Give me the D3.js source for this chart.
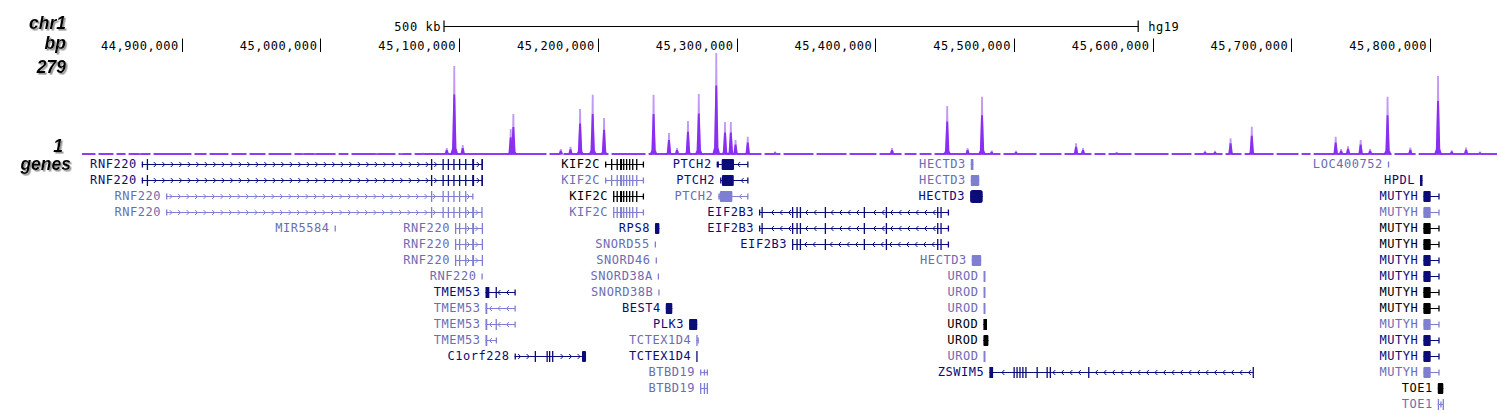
<!DOCTYPE html>
<html><head><meta charset="utf-8">
<script src="https://cdn.jsdelivr.net/npm/d3@7"></script>
<style>body{margin:0;background:#fff}svg{display:block}</style>
</head><body><svg id="c" width="1499" height="413"></svg>
<script>
// ---------- data (genomic positions in kb, chr1 hg19) ----------
const viewKb = [44828.1, 45848.3];
const tickKb = [44900, 45000, 45100, 45200, 45300, 45400, 45500, 45600, 45700, 45800];
const scaleBarKb = [45089.1, 45589.6];
const trackMax = 279, trackMin = 1;

const peakKb = [44869.9,44987.5,44996.1,45040.6,45058.6,45074.0,45091.1,45096.5,45102.6,45137.2,45139.1,45173.3,45180.3,45187.2,45196.3,45204.5,45240.2,45251.3,45257.1,45265.0,45272.8,45285.4,45291.7,45295.9,45299.3,45308.1,45327.8,45412.1,45451.9,45466.6,45477.0,45484.0,45501.5,45544.8,45549.8,45574.1,45637.8,45645.0,45656.2,45671.5,45732.0,45735.9,45740.9,45750.0,45756.8,45769.4,45785.8,45805.8,45815.7,45826.0,45836.0];
const peakVal = [4,4,4,4,4,5,18,243,26,70,111,15,21,125,164,100,164,59,18,92,166,279,89,89,40,49,8,18,133,18,159,11,10,31,18,7,10,10,45,76,49,15,23,40,15,159,19,216,12,19,8];
const gapKb = [44838.9,44851.9,44860.6,44878.6,44908.1,44919.0,44934.8,44947.8,44961.5,44980.2,45012.0,45021.3,45055.2,45066.8,45164.1,45174.2,45208.8,45235.5,45319.1,45332.8,45356.6,45380.4,45402.0,45420.1,45430.9,45441.7,45491.4,45517.4,45535.4,45557.0,45567.1,45585.9,45612.6,45629.1,45651.5,45665.2,45688.3,45706.3,45715.0,45773.3,45790.7];

// exon structures [startKb, endKb, kind] kind 0=UTR,1=CDS,2=dense block
const rnfFullEx = [[44871.2,44871.6,0],[44874.8,44875.3,1],[45079.7,45080.2,1],[45088.0,45088.4,1],[45091.8,45092.2,1],[45095.8,45096.2,1],[45099.9,45100.3,1],[45104.3,45104.7,1],[45109.4,45110.8,1],[45116.0,45117.2,1]];
const rnfLightAEx = [[44888.7,44889.1,0],[45079.7,45080.2,1],[45088.0,45088.4,1],[45091.8,45092.2,1],[45095.8,45096.2,1],[45099.9,45100.3,1],[45104.3,45104.7,1],[45109.4,45109.8,0]];
const rnfLightBEx = [[44888.7,44889.1,0],[45079.7,45080.2,1],[45088.0,45088.4,1],[45091.8,45092.2,1],[45095.8,45096.2,1],[45099.9,45100.3,1],[45104.3,45104.7,1],[45109.4,45110.8,1],[45116.0,45116.7,1]];
const rnfShortEx = [[45097.0,45097.4,1],[45099.9,45100.3,1],[45104.3,45104.7,1],[45109.4,45110.8,1],[45116.3,45117.2,1]];
const kifEx = [[45205.2,45205.6,0],[45209.5,45210.0,1],[45213.5,45214.0,1],[45216.0,45217.5,1],[45218.2,45219.0,1],[45220.3,45221.0,1],[45222.5,45223.0,1],[45224.7,45225.2,1],[45227.6,45228.0,1],[45232.4,45232.8,0]];
const kifShortEx = [[45211.0,45211.5,1],[45213.5,45214.0,1],[45216.0,45217.5,1],[45218.2,45219.0,1],[45220.3,45221.0,1],[45222.5,45223.0,1],[45224.7,45225.2,1],[45227.6,45228.0,1],[45232.4,45232.8,0]];
const eifLongEx = [[45316.2,45316.7,0],[45318.0,45318.4,1],[45340.0,45340.5,1],[45343.2,45343.6,1],[45345.6,45346.1,1],[45363.6,45364.1,1],[45391.7,45392.2,1],[45407.6,45408.1,1],[45444.6,45445.1,1],[45447.0,45447.5,1],[45452.3,45452.7,0]];
const eifShortEx = [[45340.0,45340.5,1],[45343.2,45343.6,1],[45345.6,45346.1,1],[45363.6,45364.1,1],[45391.7,45392.2,1],[45407.6,45408.1,1],[45444.6,45445.1,1],[45447.0,45447.5,1],[45452.3,45452.7,0]];
const mutyhEx = [[45795.2,45800.5,1],[45806.0,45806.5,0]];
const mutyhColors = ["n","l","k","k","n","n","k","k","l","n","n","l"]; // rows 2..13

const genes = [
  {name:"RNF220",row:0,col:"n",str:"+",a:44871.2,b:45117.2,ex:rnfFullEx},
  {name:"KIF2C",row:0,col:"k",str:"+",a:45205.2,b:45232.8,ex:kifEx},
  {name:"PTCH2",row:0,col:"n",str:"-",a:45285.7,b:45308.1,ex:[[45285.7,45287.3,0],[45289.3,45298.2,1],[45307.7,45308.1,0]]},
  {name:"HECTD3",row:0,col:"l",str:"-",a:45468.9,b:45470.8,ex:[[45468.9,45470.8,1]]},
  {name:"LOC400752",row:0,col:"l",str:"+",a:45769.6,b:45770.6,ex:[[45769.6,45770.6,0]]},

  {name:"RNF220",row:1,col:"n",str:"+",a:44871.2,b:45117.2,ex:rnfFullEx},
  {name:"KIF2C",row:1,col:"l",str:"+",a:45205.2,b:45232.8,ex:kifEx},
  {name:"PTCH2",row:1,col:"n",str:"-",a:45288.2,b:45308.1,ex:[[45288.2,45289.0,0],[45289.5,45298.0,1],[45307.7,45308.1,0]]},
  {name:"HECTD3",row:1,col:"l",str:"-",a:45468.9,b:45475.0,ex:[[45468.9,45475.0,1]]},
  {name:"HPDL",row:1,col:"n",str:"+",a:45792.8,b:45794.6,ex:[[45792.8,45794.6,1]]},

  {name:"RNF220",row:2,col:"l",str:"+",a:44888.7,b:45109.8,ex:rnfLightAEx},
  {name:"KIF2C",row:2,col:"k",str:"+",a:45211.0,b:45232.8,ex:kifShortEx},
  {name:"PTCH2",row:2,col:"l",str:"-",a:45286.9,b:45308.1,ex:[[45286.9,45288.0,0],[45288.0,45297.0,1],[45307.7,45308.1,0]]},
  {name:"HECTD3",row:2,col:"n",str:"-",a:45468.4,b:45477.5,ex:[[45468.4,45477.5,2]]},

  {name:"RNF220",row:3,col:"l",str:"+",a:44888.7,b:45116.7,ex:rnfLightBEx},
  {name:"KIF2C",row:3,col:"l",str:"+",a:45211.0,b:45232.8,ex:kifShortEx},
  {name:"EIF2B3",row:3,col:"n",str:"-",a:45316.2,b:45452.7,ex:eifLongEx},

  {name:"MIR5584",row:4,col:"l",str:"+",a:45010.2,b:45010.8,ex:[[45010.2,45010.8,0]]},
  {name:"RNF220",row:4,col:"l",str:"+",a:45097.0,b:45117.2,ex:rnfShortEx},
  {name:"RPS8",row:4,col:"n",str:"+",a:45241.2,b:45244.4,ex:[[45241.2,45244.4,1]]},
  {name:"EIF2B3",row:4,col:"n",str:"-",a:45316.2,b:45452.7,ex:eifLongEx},

  {name:"RNF220",row:5,col:"l",str:"+",a:45097.0,b:45117.2,ex:rnfShortEx},
  {name:"SNORD55",row:5,col:"l",str:"+",a:45241.0,b:45241.6,ex:[[45241.0,45241.6,0]]},
  {name:"EIF2B3",row:5,col:"n",str:"-",a:45340.0,b:45452.7,ex:eifShortEx},

  {name:"RNF220",row:6,col:"l",str:"+",a:45097.0,b:45117.2,ex:rnfShortEx},
  {name:"SNORD46",row:6,col:"l",str:"+",a:45241.7,b:45242.3,ex:[[45241.7,45242.3,0]]},
  {name:"HECTD3",row:6,col:"l",str:"-",a:45469.6,b:45476.4,ex:[[45469.6,45476.4,1]]},

  {name:"RNF220",row:7,col:"l",str:"+",a:45116.1,b:45116.7,ex:[[45116.1,45116.7,0]]},
  {name:"SNORD38A",row:7,col:"l",str:"+",a:45243.2,b:45243.8,ex:[[45243.2,45243.8,0]]},
  {name:"UROD",row:7,col:"l",str:"-",a:45478.1,b:45479.5,ex:[[45478.1,45479.5,1]]},

  {name:"TMEM53",row:8,col:"n",str:"-",a:45119.0,b:45140.3,ex:[[45119.0,45121.8,1],[45126.3,45126.8,1],[45139.9,45140.3,0]]},
  {name:"SNORD38B",row:8,col:"l",str:"+",a:45243.6,b:45244.2,ex:[[45243.6,45244.2,0]]},
  {name:"UROD",row:8,col:"l",str:"-",a:45478.1,b:45479.5,ex:[[45478.1,45479.5,1]]},

  {name:"TMEM53",row:9,col:"l",str:"-",a:45119.0,b:45140.3,ex:[[45119.0,45120.3,1],[45139.9,45140.3,0]]},
  {name:"BEST4",row:9,col:"n",str:"-",a:45249.0,b:45253.7,ex:[[45249.0,45253.7,1]]},
  {name:"UROD",row:9,col:"l",str:"-",a:45478.1,b:45479.5,ex:[[45478.1,45479.5,1]]},

  {name:"TMEM53",row:10,col:"l",str:"-",a:45119.0,b:45140.3,ex:[[45119.0,45120.3,1],[45126.3,45126.8,1],[45139.9,45140.3,0]]},
  {name:"PLK3",row:10,col:"n",str:"+",a:45265.8,b:45271.7,ex:[[45265.8,45271.7,1]]},
  {name:"UROD",row:10,col:"k",str:"-",a:45478.0,b:45480.6,ex:[[45478.0,45480.6,1]]},

  {name:"TMEM53",row:11,col:"l",str:"-",a:45119.0,b:45126.8,ex:[[45119.0,45120.3,1],[45126.4,45126.8,0]]},
  {name:"TCTEX1D4",row:11,col:"l",str:"-",a:45271.0,b:45272.8,ex:[[45271.0,45271.8,1],[45271.8,45272.8,0]]},
  {name:"UROD",row:11,col:"k",str:"-",a:45478.0,b:45481.6,ex:[[45478.0,45481.6,1]]},

  {name:"C1orf228",row:12,col:"n",str:"+",a:45140.0,b:45191.5,ex:[[45140.0,45140.4,0],[45154.5,45155.0,1],[45163.0,45163.5,1],[45164.8,45165.3,1],[45167.0,45167.5,1],[45188.6,45191.5,1]]},
  {name:"TCTEX1D4",row:12,col:"n",str:"-",a:45271.0,b:45271.7,ex:[[45271.0,45271.7,1]]},
  {name:"UROD",row:12,col:"l",str:"-",a:45478.1,b:45479.5,ex:[[45478.1,45479.5,1]]},

  {name:"BTBD19",row:13,col:"l",str:"+",a:45273.7,b:45279.0,ex:[[45273.7,45274.2,0],[45276.4,45276.9,0],[45278.5,45279.0,0]]},
  {name:"ZSWIM5",row:13,col:"n",str:"-",a:45482.3,b:45672.6,ex:[[45482.3,45485.0,1],[45499.7,45500.2,1],[45501.8,45502.3,1],[45503.9,45504.4,1],[45506.0,45506.5,1],[45508.2,45508.7,1],[45516.3,45516.8,1],[45523.5,45524.0,1],[45525.8,45526.3,1],[45553.5,45554.0,1],[45672.1,45672.6,1]]},

  {name:"BTBD19",row:14,col:"l",str:"+",a:45273.7,b:45279.0,ex:[[45273.7,45274.2,1],[45276.4,45276.9,1],[45278.5,45279.0,1]]},
  {name:"TOE1",row:14,col:"k",str:"+",a:45805.6,b:45809.6,ex:[[45805.6,45809.6,1]]},

  {name:"TOE1",row:15,col:"l",str:"+",a:45805.6,b:45809.6,ex:[[45805.6,45806.1,1],[45807.4,45807.9,0],[45809.1,45809.6,1]]}
];
mutyhColors.forEach((c,i)=>genes.push({name:"MUTYH",row:i+2,col:c,str:"-",a:45795.2,b:45806.5,ex:mutyhEx}));

const leftLabels = [["chr1",66,29],["bp",66,49],["279",66,73],["1",63,152],["genes",71,170]];

// ---------- drawing ----------
const svg = d3.select("#c");
const W = 1499;
svg.append("rect").attr("width",W).attr("height",413).attr("fill","#fff");
const x = d3.scaleLinear().domain(viewKb).range([82,1497]);
const baseY = 154.5;
const y = d3.scaleLinear().domain([0,trackMax]).range([baseY,53]);
const mono = "'DejaVu Sans Mono', monospace";

const defs = svg.append("defs");
const f = defs.append("filter").attr("id","sh").attr("x","-20%").attr("y","-20%").attr("width","150%").attr("height","150%");
f.append("feDropShadow").attr("dx",1.6).attr("dy",1.6).attr("stdDeviation",0.7).attr("flood-color","#8a8a8a").attr("flood-opacity",0.9);

// left labels
svg.append("g").selectAll("text").data(leftLabels).join("text")
  .attr("x",d=>d[1]).attr("y",d=>d[2]).attr("text-anchor","end")
  .attr("font-family","'Liberation Sans', Arial, sans-serif").attr("font-weight","bold").attr("font-style","italic")
  .attr("font-size",17.5).attr("fill","#000").attr("filter","url(#sh)").text(d=>d[0]);

// scale bar
const sb = svg.append("g");
const sbY = 26.5;
sb.append("line").attr("x1",x(scaleBarKb[0])).attr("x2",x(scaleBarKb[1])).attr("y1",sbY).attr("y2",sbY).attr("stroke","#000").attr("stroke-width",1.2);
scaleBarKb.forEach(k=>sb.append("line").attr("x1",x(k)).attr("x2",x(k)).attr("y1",20.5).attr("y2",32).attr("stroke","#000").attr("stroke-width",1.2));
sb.append("text").attr("x",x(scaleBarKb[0])-3).attr("y",31).attr("text-anchor","end").attr("font-family",mono).attr("font-size",12).attr("letter-spacing",0.55).text("500 kb");
sb.append("text").attr("x",x(scaleBarKb[1])+10).attr("y",31).attr("font-family",mono).attr("font-size",12).attr("letter-spacing",0.55).text("hg19");

// position axis
const fmt = d3.format(",");
const ax = svg.append("g");
ax.selectAll("line").data(tickKb).join("line")
  .attr("x1",d=>Math.round(x(d))+0.5).attr("x2",d=>Math.round(x(d))+0.5).attr("y1",38.5).attr("y2",52)
  .attr("stroke","#000").attr("stroke-width",1);
ax.selectAll("text").data(tickKb).join("text")
  .attr("x",d=>x(d)-3).attr("y",50).attr("text-anchor","end")
  .attr("font-family",mono).attr("font-size",12).attr("letter-spacing",0.55).attr("fill","#000")
  .text(d=>fmt(Math.round(d*1000)));

// signal track baseline (with gaps of no coverage)
const bounds = [viewKb[0], ...gapKb, viewKb[1]];
const segs = [];
for (let i=0;i<bounds.length-1;i++){
  const s = i===0 ? bounds[i] : bounds[i]+1.1;
  const e = i===bounds.length-2 ? bounds[i+1] : bounds[i+1]-1.1;
  if (e>s) segs.push([s,e]);
}
const sig = svg.append("g");
sig.selectAll("line.base").data(segs).join("line").attr("class","base")
  .attr("x1",d=>x(d[0])).attr("x2",d=>x(d[1])).attr("y1",baseY-0.5).attr("y2",baseY-0.5)
  .attr("stroke","#8f3cf2").attr("stroke-width",2);

const peaks = peakKb.map((k,i)=>({k,v:peakVal[i]}));
const light = "#c19af6", dark = "#8a2ff0";
sig.selectAll("path.lt").data(peaks).join("path").attr("class","lt")
  .attr("fill",light)
  .attr("d",d=>{const c=x(d.k);return `M${c-1.6},${baseY}L${c-0.9},${y(d.v)}L${c+0.9},${y(d.v)}L${c+1.6},${baseY}Z`;});
sig.selectAll("path.dk").data(peaks).join("path").attr("class","dk")
  .attr("fill",dark)
  .attr("d",d=>{const c=x(d.k);const t=y(d.v*0.68);const s=y(d.v*0.07);
    return `M${c-4},${baseY}L${c-2.2},${s}L${c-0.9},${t}L${c+0.9},${t}L${c+2.2},${s}L${c+4},${baseY}Z`;});

// genes
const colors = {n:"#0c0c78", l:"#7f7fd2", k:"#000000"};
const textColors = {n:"#0c0c78", l:"#6c6cb2", k:"#000000"};
const rowY = r => 164 + 16*r;
const exH = [6, 11, 13];
const gg = svg.append("g");
genes.forEach(g=>{
  const cy = rowY(g.row);
  const x1 = x(g.a), x2 = x(g.b);
  const c = colors[g.col];
  const grp = gg.append("g");
  grp.append("text").attr("x",x1-5).attr("y",cy+4.4).attr("text-anchor","end")
    .attr("font-family",mono).attr("font-size",12).attr("letter-spacing",0.55)
    .attr("fill",textColors[g.col]).text(g.name);
  if (x2-x1>2){
    grp.append("line").attr("x1",x1).attr("x2",x2).attr("y1",cy+0.5).attr("y2",cy+0.5).attr("stroke",c).attr("stroke-width",1);
    const chev=[];
    for (let cx=x1+5; cx<x2-3; cx+=8.5){
      const inEx = g.ex.some(e=>cx>=x(e[0])-2.5 && cx<=x(e[1])+2.5);
      if(!inEx) chev.push(cx);
    }
    grp.selectAll("path").data(chev).join("path")
      .attr("d",cx=> g.str==="+" ? `M${cx-1.5},${cy-2}L${cx+1},${cy+0.5}L${cx-1.5},${cy+3}` : `M${cx+1.5},${cy-2}L${cx-1},${cy+0.5}L${cx+1.5},${cy+3}`)
      .attr("fill","none").attr("stroke",c).attr("stroke-width",1);
  }
  grp.selectAll("rect").data(g.ex).join("rect")
    .attr("x",e=>x(e[0])).attr("width",e=>Math.max(1.3,x(e[1])-x(e[0])))
    .attr("y",e=>cy+0.5-exH[e[2]]/2).attr("height",e=>exH[e[2]])
    .attr("rx",e=>e[2]===2?2.5:(x(e[1])-x(e[0])>4?1:0))
    .attr("fill",c);
});
</script></body></html>
